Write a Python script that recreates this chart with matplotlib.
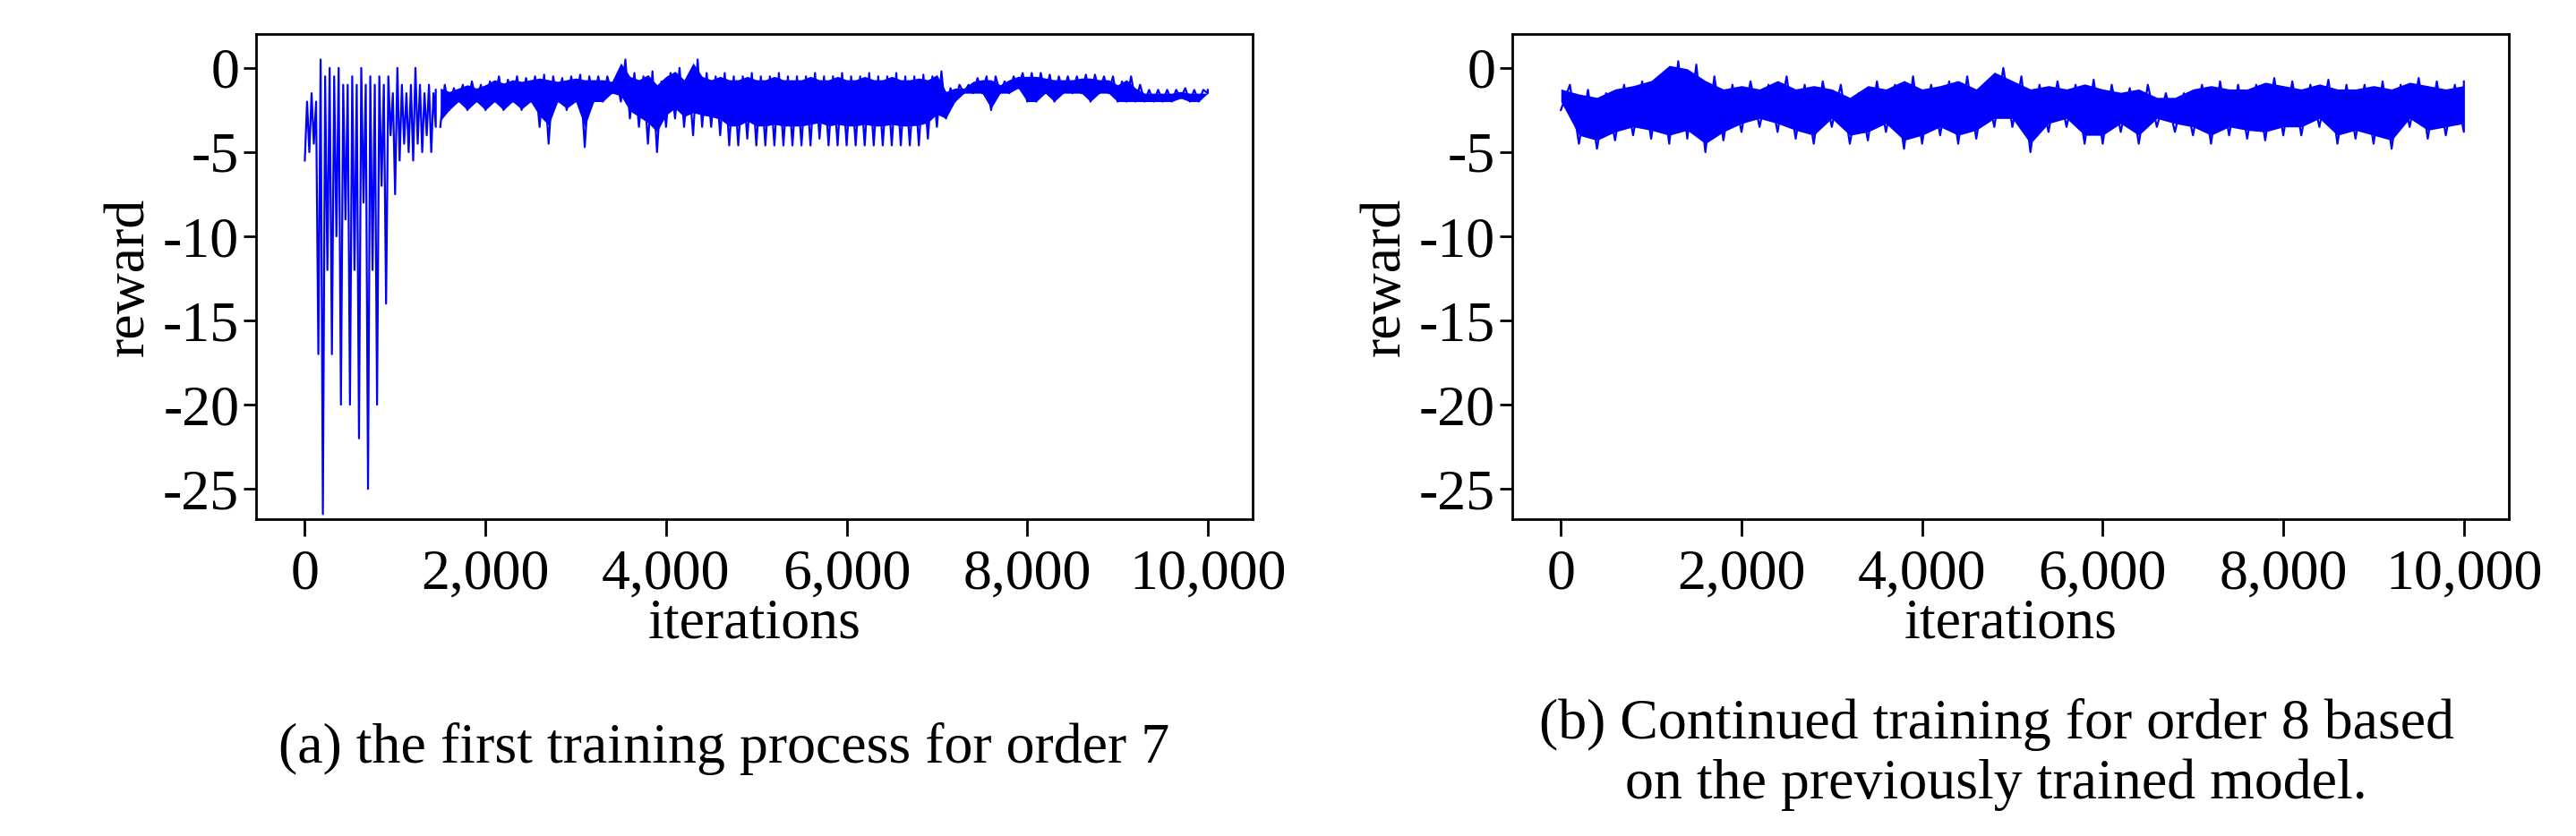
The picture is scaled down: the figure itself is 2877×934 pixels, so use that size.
import numpy as np
import matplotlib
matplotlib.use("Agg")
import matplotlib.pyplot as plt

# ---- data (envelope of the reward traces) ----
xa_early = [0,50,100,150,200,250,300,350,400,450,500,550,600,650,700,750,800,850,900,950,
            1000,1050,1100,1150,1200,1250,1300,1350,1400,1450]
hia_early = [-2,-1.5,-2,0.5,-0.5,0,-0.5,0,-1,-1,-0.5,-1,0,-1,-0.5,-1,-0.5,-1,-0.5,-1.5,
             0,-1,-1.5,-1,0,-1,-1.5,-1,-1.5,-1.3]
loa_early = [-5.5,-5,-4.5,-17,-26.5,-12,-17,-10,-20,-9,-20,-12,-22,-8,-25,-12,-20,-7,-14,-4,
             -7.5,-5.5,-4.5,-5,-5.5,-4.5,-5,-4,-5,-3.5]
xa_late = list(range(1500, 10001, 100))
hia_late = [-1,-1.2,-1,-0.8,-1,-0.8,-0.5,-0.7,-0.5,-0.6,
            -0.5,-0.4,-0.5,-0.6,-0.5,-0.4,-0.5,-0.5,-0.5,-0.6,
            0.5,-0.3,-0.5,-0.2,-0.8,-0.3,0,-0.5,0.5,-0.3,
            -0.5,-0.3,-0.5,-0.5,-0.3,-0.5,-0.5,-0.3,-0.5,-0.5,
            -0.5,-0.3,-0.5,-0.5,-0.3,-0.5,-0.5,-0.3,-0.5,-0.5,
            -0.3,-0.5,-0.5,-0.4,-0.5,-0.2,-1.2,-1,-1,-0.6,
            -0.5,-0.5,-0.8,-0.5,-0.3,-0.3,-0.3,-0.4,-0.5,-0.5,
            -0.5,-0.4,-0.4,-0.5,-0.5,-0.8,-0.5,-1,-1.3,-1.3,
            -1.3,-1.3,-1.2,-1.3,-1.3,-1.3]
loa_late = [-3.5,-2.5,-2,-2.5,-2,-2.5,-2,-2.5,-2,-2.5,
            -2,-3.5,-4.5,-2,-2.5,-2,-4.7,-2,-2,-1.5,
            -2,-3,-3.5,-4.5,-5,-3.5,-3,-3.5,-4,-3.5,
            -3.5,-4,-4.6,-4.6,-4.2,-4.6,-4.6,-4.6,-4.6,-4.6,
            -4.6,-4.6,-4.2,-4.6,-4.6,-4.6,-4.6,-4.6,-4.6,-4.6,
            -4.6,-4.6,-4.6,-4.6,-4.2,-3.5,-3,-2,-1.5,-1.5,
            -1.5,-2.5,-1.5,-1.5,-1.2,-2,-2,-1.5,-2,-1.5,
            -1.5,-1.5,-2,-1.5,-1.5,-2,-2,-2,-2,-2,
            -2,-2,-1.8,-2,-2,-1.5]

xb = list(range(0, 10001, 200))
hib = [-1,-1.3,-1.5,-1,-0.8,-0.5,0.4,0.2,-0.5,-1,-0.8,-1,-0.5,-1,-0.8,-1,-1.5,-0.8,-1,-0.5,
       -1,-0.8,-0.5,-1,0,-0.5,-1,-0.8,-1,-0.7,-1,-1.2,-1,-1.5,-1.5,-1,-0.8,-1,-1,-0.6,
       -0.8,-1,-0.7,-1,-1,-0.8,-1,-0.6,-0.8,-1,-0.8]
lob = [-2.5,-4.5,-4.8,-4.3,-4,-4.2,-4.5,-4.2,-5,-4.3,-3.8,-3.5,-3.8,-4.2,-4.5,-3.5,-4.5,-4.3,-3.8,-4.8,
       -4.5,-4,-4.5,-4.2,-3.5,-3.5,-5,-3.8,-3.5,-4.5,-4.5,-3.8,-4.5,-3.5,-3.8,-4,-4.5,-4,-4.2,-4.3,
       -4,-4,-3.5,-4.5,-4.2,-4.5,-4.8,-3.5,-4.2,-4,-3.8]

yticks = [0, -5, -10, -15, -20, -25]
xticks = [0, 2000, 4000, 6000, 8000, 10000]
xticklabels = ["0", "2,000", "4,000", "6,000", "8,000", "10,000"]
captions = ["(a) the first training process for order 7",
            "(b) Continued training for order 8 based\non the previously trained model."]

plt.rcParams['font.family'] = ['Liberation Serif', 'DejaVu Serif']
plt.rcParams['axes.unicode_minus'] = False
FS = 46

fig = plt.figure(figsize=(28.77, 9.34), dpi=100)
ax1 = fig.add_axes([0.0994, 0.379, 0.387, 0.580])
ax2 = fig.add_axes([0.587, 0.379, 0.387, 0.580])


def zigzag(x, lo, hi):
    x = np.asarray(x, float); lo = np.asarray(lo, float); hi = np.asarray(hi, float)
    step = np.diff(x).min() / 2
    xs = np.empty(2 * len(x)); ys = np.empty(2 * len(x))
    xs[0::2] = x; xs[1::2] = np.minimum(x + step, x[-1])
    ys[0::2] = lo; ys[1::2] = hi
    return xs, ys

# panel a
xs, ys = zigzag(xa_early, loa_early, hia_early)
ax1.plot(xs, ys, color='blue', lw=1.6)
xs, ys = zigzag(xa_late, loa_late, hia_late)
ax1.plot(xs, ys, color='blue', lw=1.6)
xl = np.asarray(xa_late, float); ll = np.asarray(loa_late); hl = np.asarray(hia_late)
ax1.fill_between(xl, np.maximum(ll, (ll + hl) / 2 - 0.9), hl - 0.2, color='blue', lw=0)

# panel b
xs, ys = zigzag(xb, lob, hib)
ax2.plot(xs, ys, color='blue', lw=1.6)
xbb = np.asarray(xb, float); lb = np.asarray(lob); hb = np.asarray(hib)
ax2.fill_between(xbb, lb + 0.5, hb - 0.25, color='blue', lw=0)

for ax in (ax1, ax2):
    ax.set_xlim(-540, 10500)
    ax.set_ylim(-26.8, 2.0)
    ax.set_yticks(yticks)
    ax.set_xticks(xticks)
    ax.set_xticklabels(xticklabels)
    ax.tick_params(axis='both', labelsize=FS, width=2, direction='out')
    ax.tick_params(axis='x', length=14, pad=10)
    ax.tick_params(axis='y', length=10)
    for s in ax.spines.values():
        s.set_linewidth(2)
    ax.set_xlabel("iterations", fontsize=FS, labelpad=-2)
    ax.set_ylabel("reward", fontsize=FS, labelpad=6)

fig.text(0.281, 1 - 837 / 934, captions[0], ha='center', va='center', fontsize=FS)
fig.text(0.775, 1 - 843 / 934, captions[1], ha='center', va='center', fontsize=FS,
         linespacing=1.2)

fig.savefig("out.png", dpi=100)
